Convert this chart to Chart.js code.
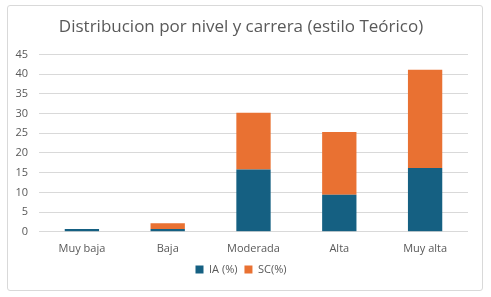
<!DOCTYPE html>
<html>
<head>
<meta charset="utf-8">
<script src="https://cdn.jsdelivr.net/npm/chart.js@4/dist/chart.umd.min.js"></script>
<style>
  html, body { margin: 0; padding: 0; background: #ffffff; }
  #frame {
    position: absolute; left: 7px; top: 5px; width: 474px; height: 284px;
    border: 1px solid #d9d9d9; border-radius: 3px;
  }
  #wrap { position: absolute; left: 0; top: 0; width: 491px; height: 297px; }
</style>
</head>
<body>
<div id="frame"></div>
<div id="wrap"><canvas id="myChart"></canvas></div>
<script>
const categories = ["Muy baja", "Baja", "Moderada", "Alta", "Muy alta"];
const iaValues = [0.7, 0.7, 15.8, 9.4, 16.2];
const scValues = [0, 1.5, 14.4, 15.9, 24.9];
const seriesNames = ["IA (%)", "SC(%)"];

document.addEventListener("DOMContentLoaded", function () {
  const ctx = document.getElementById("myChart").getContext("2d");
  new Chart(ctx, {
    type: "bar",
    data: {
      labels: categories,
      datasets: [
        {
          label: seriesNames[0],
          data: iaValues,
          backgroundColor: "#156082",
          barPercentage: 0.4,
          categoryPercentage: 1,
        },
        {
          label: seriesNames[1],
          data: scValues,
          backgroundColor: "#E97132",
          barPercentage: 0.4,
          categoryPercentage: 1,
        },
      ],
    },
    options: {
      responsive: true,
      maintainAspectRatio: false,
      animation: false,
      layout: { padding: { left: 14, right: 23, top: 8, bottom: 12 } },
      scales: {
        x: {
          stacked: true,
          grid: { display: false },
          border: { display: false },
          ticks: {
            color: "#595959",
            font: { family: "Open Sans", size: 11 },
            padding: 2,
          },
        },
        y: {
          stacked: true,
          min: 0,
          max: 45,
          ticks: {
            stepSize: 5,
            color: "#595959",
            font: { family: "Open Sans", size: 11 },
            padding: 11,
          },
          grid: { color: "#d9d9d9", drawTicks: false },
          border: { display: false },
          afterFit: function (scale) {
            scale.width = 25;
          },
        },
      },
      plugins: {
        title: {
          display: true,
          text: "Distribucion por nivel y carrera (estilo Teórico)",
          color: "#595959",
          font: { family: "Open Sans", size: 17, weight: "normal" },
          padding: { top: 9, bottom: 17 },
        },
        legend: {
          position: "bottom",
          labels: {
            boxWidth: 8,
            boxHeight: 8,
            color: "#595959",
            font: { family: "Open Sans", size: 11 },
            padding: 7,
          },
        },
        tooltip: { enabled: false },
      },
    },
  });
});
</script>
</body>
</html>
